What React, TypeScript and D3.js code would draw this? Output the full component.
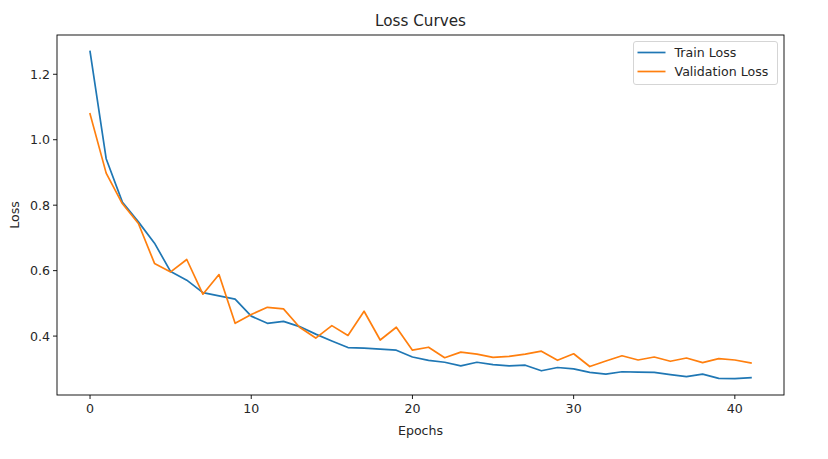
import * as d3 from "d3"
import React from "react"

const epochs = d3.range(42)
const trainLoss = [
  1.270, 0.942, 0.810, 0.749, 0.684, 0.597, 0.571, 0.533, 0.523, 0.513,
  0.461, 0.439, 0.445, 0.429, 0.406, 0.385, 0.365, 0.363, 0.360, 0.357,
  0.336, 0.326, 0.320, 0.309, 0.320, 0.313, 0.309, 0.311, 0.294, 0.304,
  0.300, 0.289, 0.284, 0.291, 0.290, 0.289, 0.282, 0.276, 0.284, 0.271,
  0.270, 0.273,
]
const valLoss = [
  1.079, 0.898, 0.805, 0.744, 0.622, 0.596, 0.634, 0.528, 0.588, 0.439,
  0.466, 0.488, 0.483, 0.427, 0.394, 0.432, 0.402, 0.476, 0.388, 0.427,
  0.357, 0.366, 0.334, 0.351, 0.345, 0.335, 0.338, 0.345, 0.354, 0.326,
  0.346, 0.307, 0.324, 0.340, 0.327, 0.336, 0.323, 0.333, 0.319, 0.331,
  0.327, 0.318,
]
const xTicks = [0, 10, 20, 30, 40]
const yTicks = [0.4, 0.6, 0.8, 1.0, 1.2]

const series = [
  { name: "Train Loss", values: trainLoss, color: "#1f77b4" },
  { name: "Validation Loss", values: valLoss, color: "#ff7f0e" },
]

const W = 828
const H = 459
const m = { left: 57, top: 35, right: 784, bottom: 395 }
const font = "DejaVu Sans, sans-serif"
const ink = "#262626"
const fs = 12.6

export default function App() {
  const allVals = [...trainLoss, ...valLoss]
  const [lo, hi] = d3.extent(allVals) as [number, number]
  const pad = (hi - lo) * 0.05
  const x = d3.scaleLinear().domain([-41 * 0.05, 41 * 1.05]).range([m.left, m.right])
  const y = d3.scaleLinear().domain([lo - pad, hi + pad]).range([m.bottom, m.top])

  const line = (vals: number[]) =>
    d3.line<number>().x((_, i) => x(epochs[i])).y((d) => y(d))(vals) as string

  return (
    <div style={{ position: "fixed", left: 0, top: 0 }}>
      <svg width={W} height={H} style={{ display: "block", background: "#fff" }}>
        <text x={(m.left + m.right) / 2} y={26} textAnchor="middle" fontFamily={font} fontSize={15.2} fill={ink}>
          Loss Curves
        </text>

        <defs>
          <clipPath id="plotclip">
            <rect x={m.left} y={m.top} width={m.right - m.left} height={m.bottom - m.top} />
          </clipPath>
        </defs>
        <g clipPath="url(#plotclip)">
          {series.map((s) => (
            <path key={s.name} d={line(s.values)} fill="none" stroke={s.color} strokeWidth={1.7} strokeLinejoin="round" strokeLinecap="square" />
          ))}
        </g>

        <rect x={m.left} y={m.top} width={m.right - m.left} height={m.bottom - m.top} fill="none" stroke="#000" strokeWidth={0.9} />

        {xTicks.map((t) => (
          <g key={t} transform={`translate(${x(t)},${m.bottom})`}>
            <line y2={4} stroke="#000" strokeWidth={0.9} />
            <text y={18} textAnchor="middle" fontFamily={font} fontSize={fs} fill={ink}>{t}</text>
          </g>
        ))}
        {yTicks.map((t) => (
          <g key={t} transform={`translate(${m.left},${y(t)})`}>
            <line x2={-4} stroke="#000" strokeWidth={0.9} />
            <text x={-7} dy="0.35em" textAnchor="end" fontFamily={font} fontSize={fs} fill={ink}>{t.toFixed(1)}</text>
          </g>
        ))}

        <text x={(m.left + m.right) / 2} y={435} textAnchor="middle" fontFamily={font} fontSize={fs} fill={ink}>Epochs</text>
        <text transform={`translate(19,${(m.top + m.bottom) / 2}) rotate(-90)`} textAnchor="middle" fontFamily={font} fontSize={fs} fill={ink}>Loss</text>

        <g transform="translate(633.5,41.5)">
          <rect width={144} height={43} rx={2.5} fill="#fff" fillOpacity={0.8} stroke="#d0d0d0" strokeWidth={0.9} />
          {series.map((s, i) => (
            <g key={s.name} transform={`translate(0,${11 + i * 19})`}>
              <line x1={4} x2={32} stroke={s.color} strokeWidth={1.7} />
              <text x={41} dy="0.35em" fontFamily={font} fontSize={fs} fill={ink}>{s.name}</text>
            </g>
          ))}
        </g>
      </svg>
    </div>
  )
}
